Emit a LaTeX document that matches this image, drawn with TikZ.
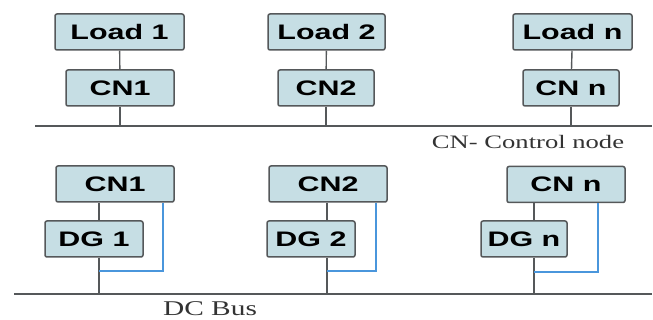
\documentclass[tikz,border=0pt]{standalone}
\usepackage{fontspec}
\usepackage{tikz}
\usetikzlibrary{calc}
\usetikzlibrary{positioning}
\newfontfamily\boxfont[FakeStretch=1.45]{Liberation Sans}
\newfontfamily\notefont[FakeStretch=1.4]{Liberation Serif}
\definecolor{boxfill}{RGB}{198,222,228}
\definecolor{boxline}{RGB}{85,88,90}
\definecolor{linkblue}{RGB}{74,150,220}
\tikzset{
  mybox/.style={
    draw=boxline,
    fill=boxfill,
    shape=rectangle,
    line width=1.5pt,
    rounded corners=2pt,
    align=center,
    inner sep=0pt,
    minimum height=36pt,
    font=\boxfont\bfseries\fontsize{21}{24}\selectfont
  },
  myline/.style={
    draw=boxline,
    line width=1.4pt,
  },
  mylink/.style={
    draw=linkblue,
    line width=1.5pt,
  },
  mynote/.style={
    inner sep=0pt,
    text=black!80,
    font=\notefont\fontsize{19}{22}\selectfont
  },
}

\begin{document}
\begin{tikzpicture}[x=1pt, y=-1pt]
    \useasboundingbox (0,0) rectangle (653,320);

    % load side
    \node[mybox, minimum width=129pt] (load1) at (119.5,32) {Load 1};
    \node[mybox, minimum width=117pt] (load2) at (326.5,32) {Load 2};
    \node[mybox, minimum width=119pt] (loadn) at (572.5,32) {Load n};

    \node[mybox, minimum width=108pt] (cn1) at (120,88)  {CN1};
    \node[mybox, minimum width=96pt]  (cn2) at (326,88)  {CN2};
    \node[mybox, minimum width=96pt]  (cnn) at (571,88)  {CN n};

    \coordinate (topbus west) at (35,126);
    \coordinate (topbus east) at (652,126);
    \draw[myline] (topbus west) -- (topbus east);

    \draw[myline] (load1) -- (cn1);
    \draw[myline] (load2) -- (cn2);
    \draw[myline] (loadn) -- (cnn);
    \draw[myline] (cn1.south) -- (cn1.south |- topbus west);
    \draw[myline] (cn2.south) -- (cn2.south |- topbus west);
    \draw[myline] (cnn.south) -- (cnn.south |- topbus west);

    \node[mynote] (cnnote) at (528,142) {CN- Control node};

    % generator side
    \node[mybox, minimum width=118pt] (gcn1) at (115,184)   {CN1};
    \node[mybox, minimum width=118pt] (gcn2) at (328,184)   {CN2};
    \node[mybox, minimum width=118pt] (gcnn) at (566,184.5) {CN n};

    \node[mybox, minimum width=98pt] (dg1) at (94,239)  {DG 1};
    \node[mybox, minimum width=88pt] (dg2) at (311,239) {DG 2};
    \node[mybox, minimum width=86pt] (dgn) at (524,239) {DG n};

    \coordinate (dcbus west) at (14,294);
    \coordinate (dcbus east) at (652,294);
    \draw[myline] (dcbus west) -- (dcbus east);

    \coordinate (tap1) at (99,294);
    \coordinate (tap2) at (327,294);
    \coordinate (tapn) at (534,294);
    \coordinate (sig1) at (163,271);
    \coordinate (sig2) at (376,271);
    \coordinate (sign) at (598,272);

    \draw[myline] (gcn1.south -| tap1) -- (dg1.north -| tap1);
    \draw[myline] (gcn2.south -| tap2) -- (dg2.north -| tap2);
    \draw[myline] (gcnn.south -| tapn) -- (dgn.north -| tapn);
    \draw[myline] (dg1.south -| tap1) -- (tap1);
    \draw[myline] (dg2.south -| tap2) -- (tap2);
    \draw[myline] (dgn.south -| tapn) -- (tapn);

    \draw[mylink] (gcn1.south -| sig1) -- (sig1) -- (sig1 -| tap1);
    \draw[mylink] (gcn2.south -| sig2) -- (sig2) -- (sig2 -| tap2);
    \draw[mylink] (gcnn.south -| sign) -- (sign) -- (sign -| tapn);

    \node[mynote, font=\notefont\fontsize{21}{24}\selectfont] (busnote) at (210,309) {DC Bus};
  \end{tikzpicture}
\end{document}
